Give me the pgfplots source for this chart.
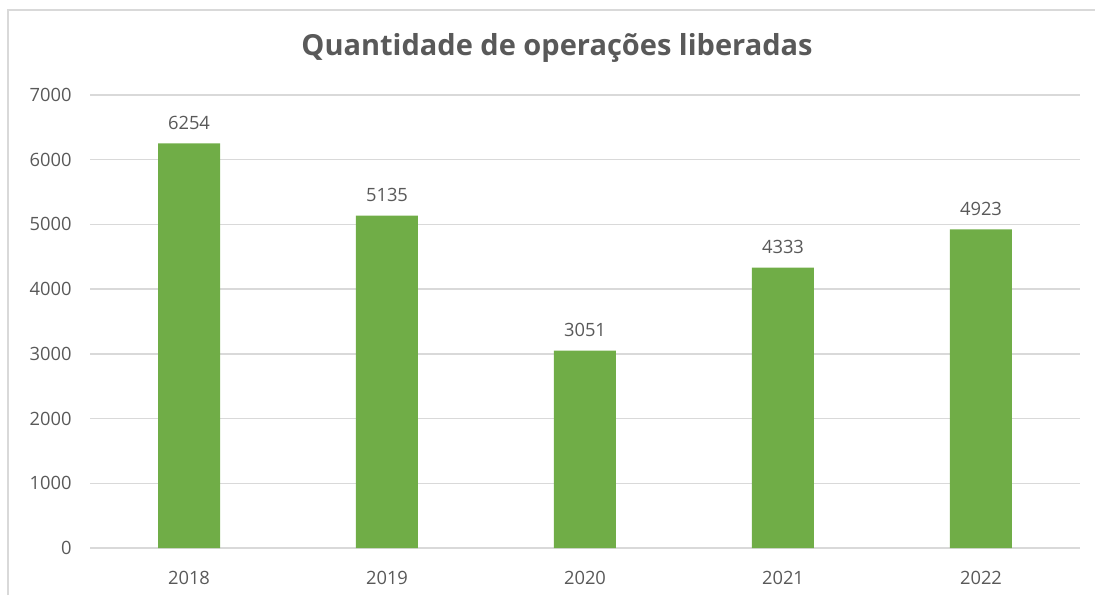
\documentclass[border=0pt]{standalone}
\usepackage{pgfplots}
\pgfplotsset{compat=1.18}
\usepackage{fontspec}
\setmainfont{Open Sans}
\definecolor{barg}{HTML}{70AD47}
\definecolor{txt}{HTML}{595959}
\definecolor{grd}{HTML}{D9D9D9}

\begin{document}
\begin{tikzpicture}[x=0.6pt,y=0.6pt]
  \path[use as bounding box] (0,0) rectangle (1095,595);
  % frame of the chart area
  \draw[grd, line width=1.2pt] (8,0) -- (8,585) -- (1095,585);
  \node[text=txt, font=\fontsize{17.4}{20}\selectfont\bfseries] at (557,547) {Quantidade de operações liberadas};
  \coordinate (org) at (90,47);
  \begin{axis}[
      at={(org)}, anchor=south west,
      scale only axis, width=594pt, height=271.8pt,
      xmin=-0.5, xmax=4.5,
      ymin=0, ymax=7000,
      ytick={0,1000,...,7000},
      xtick=data,
      xticklabels={2018,2019,2020,2021,2022},
      axis line style={draw=none},
      major tick style={draw=none},
      ymajorgrids,
      grid style={grd, line width=0.9pt},
      ybar, bar width=37.2pt,
      /pgf/number format/assume math mode=true,
      /pgf/number format/1000 sep={},
      tick label style={font=\fontsize{11}{13}\selectfont, text=txt, inner sep=0pt},
      yticklabel style={xshift=-10.8pt},
      xticklabel style={yshift=-9.5pt},
      nodes near coords,
      every node near coord/.append style={font=\fontsize{11}{13}\selectfont, text=txt, inner sep=0pt, anchor=south, yshift=8pt},
    ]
    \addplot[fill=barg, draw=none] coordinates {(0,6254) (1,5135) (2,3051) (3,4333) (4,4923)};
  \end{axis}
\end{tikzpicture}
\end{document}
